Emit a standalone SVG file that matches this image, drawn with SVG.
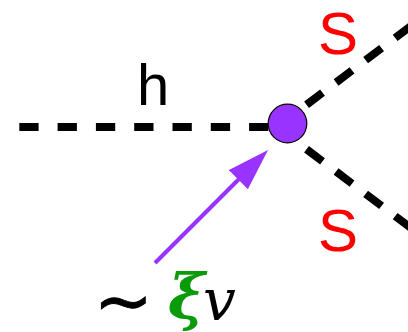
<svg xmlns="http://www.w3.org/2000/svg" width="408" height="332" viewBox="0 0 408 332">
  <style>
    .dash { stroke: #000; stroke-width: 8; fill: none; }
    .lbl { font-family: "Liberation Sans", Arial, sans-serif; font-size: 58px; }
    .red { fill: #ff0000; font-size: 60px; }
  </style>
  <defs>
    <marker id="head" viewBox="0 0 42 27" refX="6.6" refY="13.5" markerWidth="42" markerHeight="27" markerUnits="userSpaceOnUse" orient="auto">
      <path d="M0,0 L42,13.5 L0,27 Z" fill="#9933ff"/>
    </marker>
  </defs>
  <rect width="408" height="332" fill="#fff"/>
  <g id="connectors">
    <line class="dash" x1="19.3" y1="127" x2="277" y2="127" stroke-dasharray="19.3 19"/>
    <line class="dash" x1="277" y1="127" x2="430" y2="11.6" stroke-dasharray="20 17"/>
    <line class="dash" x1="277" y1="127" x2="430" y2="242.4" stroke-dasharray="20 17"/>
    <line x1="155" y1="263" x2="243" y2="175" stroke="#9933ff" stroke-width="4" marker-end="url(#head)"/>
  </g>
  <g id="vertex">
    <circle cx="287.5" cy="123.5" r="19.3" fill="#9933ff" stroke="#000" stroke-width="1.2"/>
  </g>
  <g id="label-h">
    <text class="lbl" x="137" y="105">h</text>
  </g>
  <g id="label-s1">
    <text class="lbl red" x="318" y="53.5">S</text>
  </g>
  <g id="label-s2">
    <text class="lbl red" x="318" y="251">S</text>
  </g>
  <g id="label-xi-v">
    <text font-family="DejaVu Sans, sans-serif" font-size="70" x="94" y="325" stroke="#000" stroke-width="1">∼</text>
    <text font-family="DejaVu Serif, serif" font-size="62" x="168" y="318" fill="#0a9a0a" font-weight="bold" font-style="italic">ξ</text>
    <text font-family="DejaVu Serif, serif" font-size="58" x="203" y="320" font-style="italic">v</text>
  </g>
</svg>
